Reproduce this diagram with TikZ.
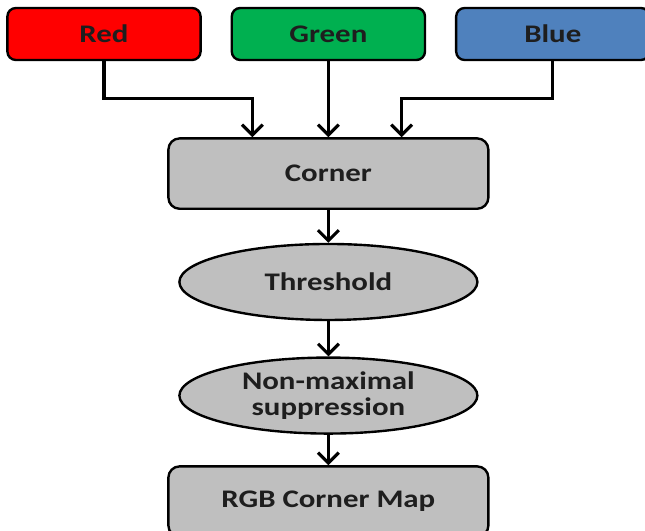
\documentclass[tikz,border=0pt]{standalone}
\usepackage{fontspec}
\setmainfont{Carlito}[FakeStretch=1.22]
\usepackage{tikz}
\usetikzlibrary{positioning,shapes.geometric,arrows.meta}

\definecolor{boxred}{RGB}{255,0,0}
\definecolor{boxgreen}{RGB}{0,176,80}
\definecolor{boxblue}{RGB}{79,129,189}
\definecolor{boxgray}{RGB}{191,191,191}
\definecolor{inktext}{RGB}{30,30,30}

\begin{document}
\begin{tikzpicture}[font=\fontsize{18}{18}\selectfont\bfseries, text=inktext,
        inbox/.style = {draw, rounded corners=6pt, line width=1.7pt, minimum width=4.83cm, minimum height=1.3cm},
        stagebox/.style = {draw, rounded corners=8pt, line width=1.7pt, fill=boxgray, minimum width=8cm, minimum height=1.76cm},
        stageoval/.style = {draw, ellipse, line width=1.7pt, fill=boxgray, minimum width=7.45cm, minimum height=1.9cm, inner sep=0pt, align=center},
        arr/.style = {-{Straight Barb[length=2.6mm,width=5.2mm]}, line width=2.2pt}]
    \useasboundingbox (0,0) rectangle (16.125,-13.275);
        \node[inbox, fill=boxred] (red) at (2.6,-0.85) {Red};
        \node[inbox, fill=boxgreen] (green) [right=0.72cm of red] {Green};
        \node[inbox, fill=boxblue] (blue) [right=0.72cm of green] {Blue};
        \node[stagebox] (corner) [below=1.9cm of green] {Corner};
        \node[stageoval] (thresh) [below=0.82cm of corner] {Threshold};
        \node[stageoval] (nonmax) [below=0.88cm of thresh] {Non-maximal\\suppression};
        \node[stagebox] (cmap) [below=0.76cm of nonmax] {RGB Corner Map};
        \draw[arr] (red.south) -- ++(0,-0.93) -| ([xshift=-1.9cm]corner.north);
        \draw[arr] (green) -- (corner);
        \draw[arr] (blue.south) -- ++(0,-0.93) -| ([xshift=1.83cm]corner.north);
        \draw[arr] (corner) -- (thresh);
        \draw[arr] (thresh) -- (nonmax);
        \draw[arr] (nonmax) -- (cmap);
    \end{tikzpicture}
\end{document}
